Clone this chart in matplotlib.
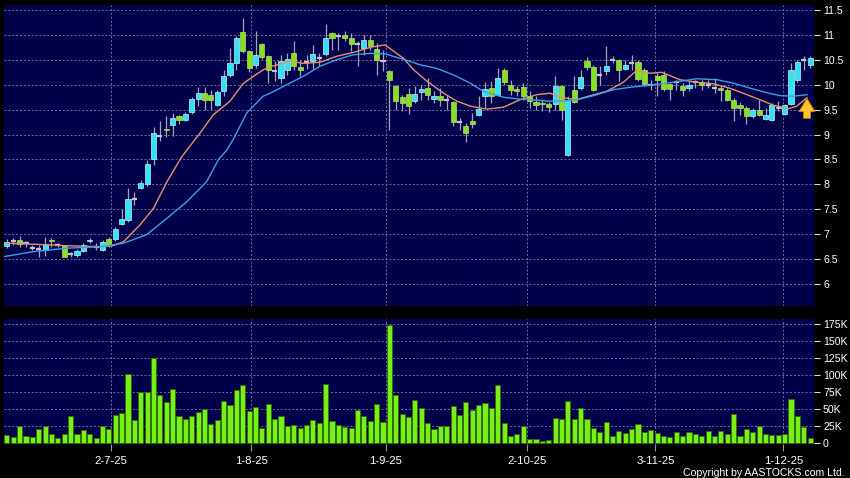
import matplotlib
matplotlib.use('Agg')
import matplotlib.pyplot as plt
import numpy as np

plt.rcParams['font.family'] = ['Liberation Sans', 'DejaVu Sans']

# ---------------- data ----------------
open_ = [6.77, 6.87, 6.89, 6.82, 6.73, 6.70, 6.69, 6.88, 6.79, 6.77,
         6.61, 6.59, 6.67, 6.86, 6.74, 6.69, 6.90, 6.90, 7.21, 7.29,
         7.71, 7.92, 8.00, 8.50, 8.97, 9.11, 9.19, 9.38, 9.30, 9.45,
         9.71, 9.83, 9.80, 9.60, 9.87, 10.20, 10.43, 11.05, 10.67, 10.39,
         10.81, 10.57, 10.28, 10.13, 10.30, 10.63, 10.35, 10.45, 10.48, 10.53,
         10.61, 11.03, 10.98, 11.00, 10.93, 10.81, 10.73, 10.90, 10.71, 10.47,
         10.27, 9.98, 9.75, 9.82, 9.67, 9.85, 9.93, 9.71, 9.78, 9.70,
         9.65, 9.25, 9.18, 9.28, 9.39, 9.77, 9.93, 9.79, 10.30, 10.00,
         9.91, 9.95, 9.77, 9.65, 9.64, 9.62, 9.62, 9.98, 8.58, 9.90,
         9.93, 10.47, 10.35, 10.20, 10.27, 10.49, 10.49, 10.31, 10.43, 10.45,
         10.30, 10.00, 10.17, 10.19, 10.02, 10.05, 9.97, 9.94, 10.05, 10.05,
         10.00, 9.93, 9.93, 9.89, 9.69, 9.60, 9.53, 9.37, 9.49, 9.31,
         9.29, 9.53, 9.41, 9.62, 10.09, 10.49, 10.39]
high = [6.90, 6.92, 6.97, 6.87, 6.79, 6.79, 6.94, 6.92, 6.83, 6.79,
        6.65, 6.70, 6.82, 6.92, 6.82, 6.89, 6.94, 7.14, 7.50, 7.92,
        7.85, 8.09, 8.49, 9.15, 9.27, 9.38, 9.43, 9.40, 9.45, 9.75,
        9.95, 9.95, 9.90, 9.90, 10.30, 10.73, 10.98, 11.33, 10.70, 11.07,
        10.83, 10.60, 10.47, 10.60, 10.63, 10.87, 10.49, 10.60, 10.79, 10.63,
        11.22, 11.05, 11.03, 11.07, 11.03, 10.87, 11.00, 11.00, 10.83, 10.70,
        10.30, 10.00, 9.80, 9.93, 9.97, 10.00, 10.13, 9.87, 9.93, 9.80,
        9.67, 9.33, 9.23, 9.43, 9.77, 10.05, 10.07, 10.33, 10.33, 10.10,
        9.98, 10.03, 9.87, 9.77, 9.71, 9.66, 10.17, 10.00, 9.77, 10.17,
        10.30, 10.55, 10.40, 10.37, 10.78, 10.57, 10.51, 10.50, 10.60, 10.50,
        10.33, 10.10, 10.23, 10.27, 10.03, 10.10, 10.03, 10.07, 10.10, 10.10,
        10.10, 10.13, 10.00, 9.93, 9.73, 9.65, 9.57, 9.53, 9.70, 9.53,
        9.63, 9.67, 9.61, 10.43, 10.49, 10.58, 10.58]
low = [6.72, 6.79, 6.75, 6.75, 6.69, 6.55, 6.57, 6.75, 6.74, 6.54,
       6.55, 6.54, 6.65, 6.83, 6.69, 6.67, 6.75, 6.87, 7.19, 7.25,
       7.59, 7.90, 7.97, 8.39, 8.87, 8.95, 8.97, 9.22, 9.28, 9.42,
       9.58, 9.50, 9.50, 9.58, 9.77, 10.15, 10.30, 10.63, 10.25, 10.33,
       10.51, 10.03, 10.07, 10.03, 10.20, 10.30, 10.18, 10.31, 10.31, 10.37,
       10.57, 10.70, 10.70, 10.87, 10.67, 10.37, 10.60, 10.70, 10.20, 10.27,
       9.10, 9.50, 9.47, 9.42, 9.63, 9.70, 9.70, 9.63, 9.57, 9.50,
       9.17, 9.10, 8.85, 9.13, 9.37, 9.53, 9.63, 9.77, 10.00, 9.80,
       9.77, 9.70, 9.53, 9.50, 9.47, 9.45, 9.50, 9.29, 8.57, 9.63,
       9.90, 10.30, 9.87, 10.00, 10.20, 10.43, 10.07, 10.30, 10.30, 10.07,
       9.97, 9.90, 9.77, 9.87, 9.70, 9.90, 9.77, 9.87, 9.93, 9.89,
       9.93, 9.83, 9.67, 9.67, 9.27, 9.40, 9.22, 9.33, 9.37, 9.30,
       9.27, 9.47, 9.39, 9.60, 10.05, 10.30, 10.33]
close = [6.85, 6.87, 6.81, 6.82, 6.73, 6.70, 6.80, 6.86, 6.79, 6.55,
         6.61, 6.67, 6.79, 6.88, 6.74, 6.85, 6.79, 7.10, 7.30, 7.70,
         7.71, 8.02, 8.41, 9.03, 8.97, 9.09, 9.33, 9.30, 9.41, 9.71,
         9.83, 9.70, 9.70, 9.85, 10.17, 10.43, 10.93, 10.68, 10.33, 10.59,
         10.55, 10.29, 10.28, 10.48, 10.51, 10.37, 10.29, 10.45, 10.61, 10.53,
         10.93, 10.93, 10.98, 10.93, 10.81, 10.81, 10.90, 10.77, 10.49, 10.47,
         10.10, 9.67, 9.63, 9.57, 9.82, 9.91, 9.80, 9.77, 9.69, 9.70,
         9.25, 9.25, 9.03, 9.21, 9.51, 9.91, 9.77, 10.13, 10.05, 9.90,
         9.87, 9.78, 9.67, 9.60, 9.62, 9.55, 9.98, 9.50, 9.70, 9.65,
         10.15, 10.35, 9.90, 10.20, 10.38, 10.49, 10.30, 10.40, 10.43, 10.11,
         10.01, 10.00, 10.10, 9.92, 9.92, 10.05, 9.90, 9.99, 10.05, 10.00,
         10.00, 9.93, 9.89, 9.70, 9.53, 9.53, 9.37, 9.49, 9.40, 9.40,
         9.59, 9.56, 9.59, 10.29, 10.45, 10.49, 10.53]
volume_k = [12.2, 9.3, 25.4, 10.3, 9.3, 20.5, 25.4, 14.2, 7.3, 13.7,
            40, 13.7, 19, 13.7, 7.8, 24.9, 21, 42, 45, 102,
            34.7, 75.3, 74.8, 125.6, 70.9, 60.1, 79.7, 39.6, 35.2, 39.6,
            45.5, 50.3, 28.4, 34.7, 62.1, 56.7, 77.7, 85.5, 46.9, 52.8,
            22.5, 57.2, 36.2, 40, 24.9, 26.4, 22, 26.9, 33.7, 29.8,
            87.5, 32.7, 26.9, 24.4, 23, 48.4, 40, 32.3, 58.2, 31.3,
            173, 70.9, 43, 39.1, 64, 52.3, 29.3, 20.5, 25.4, 25.4,
            54.3, 41, 60.1, 49.4, 55.7, 59.6, 51.8, 85.5, 30.3, 11.2,
            13.2, 25.4, 6.4, 6.4, 2.9, 4.9, 37.6, 35.2, 62.6, 36.2,
            52.3, 35.2, 22.5, 16.1, 30.8, 10.8, 18.6, 14.7, 21, 28.8,
            16.1, 19.1, 15.6, 11.2, 9.8, 16.1, 11.2, 16.1, 13.2, 10.8,
            18.6, 10.8, 18.6, 13.2, 43, 11.2, 21, 16.6, 25.4, 13.2,
            12.2, 12.2, 13.2, 64.5, 40.6, 24, 7.8]

ma_short_x = [0, 4.1, 9.4, 14.6, 16.6, 18.3, 20.9, 23.0, 25.1, 27.4, 30.3, 32.4,
              35.0, 37.1, 40.2, 41.3, 44.4, 46.5, 49.1, 51.7, 54.4, 57.0, 59.3,
              62.2, 63.8, 65.9, 68.5, 70.6, 72.7, 75.3, 77.9, 80.5, 83.1, 85.2,
              86.8, 89.4, 91.5, 94.1, 96.7, 98.8, 100.9, 102.7, 105.6, 108.2,
              110.8, 113.4, 116.1, 118.7, 120.2, 122.6, 123.9, 125.5]
ma_short = [6.82, 6.80, 6.77, 6.75, 6.77, 6.85, 7.19, 7.52, 8.05, 8.55, 9.03, 9.40,
            9.67, 10.03, 10.30, 10.36, 10.47, 10.43, 10.45, 10.57, 10.65, 10.75, 10.80,
            10.53, 10.30, 10.07, 9.83, 9.67, 9.57, 9.51, 9.55, 9.70, 9.80, 9.83,
            9.75, 9.70, 9.78, 9.87, 10.05, 10.29, 10.23, 10.25, 10.10, 10.05,
            10.02, 9.93, 9.80, 9.67, 9.59, 9.52, 9.57, 9.74]
ma_long_x = [-0.5, 4.1, 9.4, 14.6, 18.3, 21.9, 25.1, 28.2, 31.3, 33.2, 34.5, 35.5,
             37.6, 40.2, 41.3, 43.9, 46.5, 49.1, 51.7, 54.3, 57.0, 59.3, 62.2,
             64.8, 67.4, 70.0, 72.7, 74.7, 77.9, 80.5, 83.1, 85.2, 86.8, 89.4,
             92.0, 95.1, 97.8, 100.9, 104.5, 108.2, 111.4, 114.0, 116.6, 119.2,
             121.3, 123.4, 125.5]
ma_long = [6.55, 6.65, 6.72, 6.75, 6.82, 6.99, 7.32, 7.65, 8.05, 8.50, 8.69, 8.90,
           9.43, 9.77, 9.83, 10.00, 10.17, 10.37, 10.50, 10.60, 10.63, 10.62, 10.51,
           10.40, 10.33, 10.20, 10.03, 9.87, 9.75, 9.71, 9.69, 9.67, 9.67, 9.70,
           9.78, 9.90, 9.95, 9.99, 10.05, 10.12, 10.10, 10.03, 9.93, 9.84,
           9.78, 9.77, 9.80]

date_pos = [16.28, 38.3, 59.45, 81.6, 101.7, 121.8]
date_labels = ['2-7-25', '1-8-25', '1-9-25', '2-10-25', '3-11-25', '1-12-25']
price_ticks = [6, 6.5, 7, 7.5, 8, 8.5, 9, 9.5, 10, 10.5, 11, 11.5]
price_labels = ['6', '6.5', '7', '7.5', '8', '8.5', '9', '9.5', '10', '10.5', '11', '11.5']
vol_ticks = [0, 25, 50, 75, 100, 125, 150, 175]
vol_labels = ['0', '25K', '50K', '75K', '100K', '125K', '150K', '175K']
arrow_idx, arrow_top, arrow_bottom = 125.5, 9.78, 9.27

# ---------------- styling ----------------
BG = '#000000'
PANEL = '#00004a'
GRID = '#6f6f9f'
UP = '#33e3f3'
UP_EDGE = '#b8f4fa'
DOWN = '#86e21e'
DOWN_EDGE = '#b4e070'
WICK = '#a4a4b4'
VOL = '#77f016'
VOL_EDGE = '#2f6a00'

W, H = 850, 478
fig = plt.figure(figsize=(W / 100, H / 100), dpi=100, facecolor=BG)

def axes_px(left, top, right, bottom):
    return fig.add_axes([left / W, 1 - bottom / H, (right - left) / W, (bottom - top) / H])

ax = axes_px(4, 5, 814, 306)
axv = axes_px(4, 319, 814, 444)

n = len(close)
x = np.arange(n)
o = np.array(open_); c = np.array(close); hi = np.array(high); lo = np.array(low)
xlim = (-0.45, 126.6)

for a in (ax, axv):
    a.set_facecolor(PANEL)
    for s in a.spines.values():
        s.set_visible(False)
    a.set_xlim(*xlim)
    a.set_xticks(date_pos)
    a.yaxis.tick_right()
    a.tick_params(axis='y', colors='#d8d8d8', labelcolor='white', labelsize=7.6,
                  length=4, width=0.8, pad=2.5, direction='out')
    a.grid(True, color=GRID, linestyle=(0, (2, 2)), linewidth=0.7)
    a.set_axisbelow(True)

ax.set_ylim(5.56, 11.6)
ax.set_yticks(price_ticks)
ax.set_yticklabels(price_labels)
ax.tick_params(axis='x', length=0, labelbottom=False)

axv.set_ylim(-0.8, 182.3)
axv.set_yticks(vol_ticks)
axv.set_yticklabels(vol_labels)
axv.tick_params(axis='x', colors='#9a9a9a', labelcolor='white', labelsize=8.2,
                length=5, width=0.8, pad=4, direction='out')
axv.set_xticklabels(date_labels)
for gl, t in zip(axv.get_ygridlines(), vol_ticks):
    if t == 0:
        gl.set_visible(False)

# candles
bw = 0.8
ax.vlines(x, lo, hi, color=WICK, linewidth=0.9, zorder=2)
up = c > o
down = c < o
flat = c == o
ax.bar(x[up], (c - o)[up], bottom=o[up], width=bw, color=UP, edgecolor=UP_EDGE,
       linewidth=0.5, zorder=3)
ax.bar(x[down], (o - c)[down], bottom=c[down], width=bw, color=DOWN,
       edgecolor=DOWN_EDGE, linewidth=0.5, zorder=3)
ax.hlines(c[flat], x[flat] - bw / 2, x[flat] + bw / 2, color='#c4c4cc',
          linewidth=1.6, zorder=3)

# moving averages
ax.plot(ma_short_x, ma_short, color='#e8906a', linewidth=1.0, zorder=4)
ax.plot(ma_long_x, ma_long, color='#3aa0e8', linewidth=1.0, zorder=4)

# arrow marker
ax.annotate('', xy=(arrow_idx, arrow_top), xytext=(arrow_idx, arrow_bottom),
            arrowprops=dict(arrowstyle='simple,head_width=1.15,head_length=0.95,tail_width=0.5',
                            fc='#ffc52a', ec='#c98400', lw=0.6), zorder=6)

# volume
axv.bar(x, volume_k, width=0.8, color=VOL, edgecolor=VOL_EDGE, linewidth=0.6, zorder=3)

fig.text(845 / W, 1 - 476 / H, 'Copyright by AASTOCKS.com Ltd.', color='white',
         fontsize=7.6, ha='right', va='baseline')

fig.savefig('out.png', dpi=100, facecolor=BG)
